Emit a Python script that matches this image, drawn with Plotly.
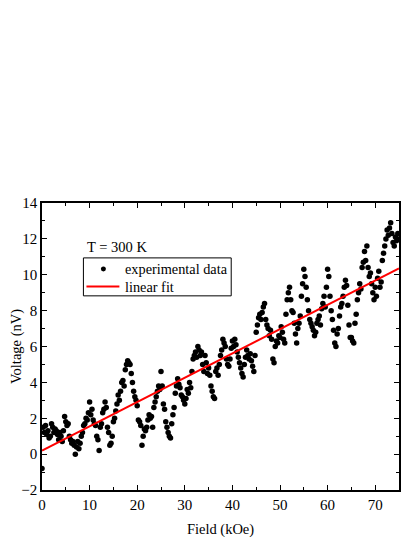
"""
Field dependence of the voltage at T = 300 K with a linear fit
"""
import plotly.graph_objects as go

# measured points (field in kOe, voltage in nV)
field = [
    0.0, 0.25, 0.5, 0.75, 1.0, 1.25, 1.5, 1.75, 2.0, 2.25, 2.5, 2.75,
    3.0, 3.25, 3.5, 3.75, 4.0, 4.25, 4.5, 4.75, 5.0, 5.25, 5.5, 5.75,
    6.0, 6.25, 6.5, 6.75, 7.0, 7.25, 7.5, 7.75, 8.0, 8.25, 8.5, 8.75,
    9.0, 9.25, 9.5, 9.75, 10.0, 10.25, 10.5, 10.75, 11.0, 11.25, 11.5, 11.75,
    12.0, 12.25, 12.5, 12.75, 13.0, 13.25, 13.5, 13.75, 14.0, 14.25, 14.5, 14.75,
    15.0, 15.25, 15.5, 15.75, 16.0, 16.25, 16.5, 16.75, 17.0, 17.25, 17.5, 17.75,
    18.0, 18.25, 18.5, 18.75, 19.0, 19.25, 19.5, 19.75, 20.0, 20.25, 20.5, 20.75,
    21.0, 21.25, 21.5, 21.75, 22.0, 22.25, 22.5, 22.75, 23.0, 23.25, 23.5, 23.75,
    24.0, 24.25, 24.5, 24.75, 25.0, 25.25, 25.5, 25.75, 26.0, 26.25, 26.5, 26.75,
    27.0, 27.25, 27.5, 27.75, 28.0, 28.25, 28.5, 28.75, 29.0, 29.25, 29.5, 29.75,
    30.0, 30.25, 30.5, 30.75, 31.0, 31.25, 31.5, 31.75, 32.0, 32.25, 32.5, 32.75,
    33.0, 33.25, 33.5, 33.75, 34.0, 34.25, 34.5, 34.75, 35.0, 35.25, 35.5, 35.75,
    36.0, 36.25, 36.5, 36.75, 37.0, 37.25, 37.5, 37.75, 38.0, 38.25, 38.5, 38.75,
    39.0, 39.25, 39.5, 39.75, 40.0, 40.25, 40.5, 40.75, 41.0, 41.25, 41.5, 41.75,
    42.0, 42.25, 42.5, 42.75, 43.0, 43.25, 43.5, 43.75, 44.0, 44.25, 44.5, 44.75,
    45.0, 45.25, 45.5, 45.75, 46.0, 46.25, 46.5, 46.75, 47.0, 47.25, 47.5, 47.75,
    48.0, 48.25, 48.5, 48.75, 49.0, 49.25, 49.5, 49.75, 50.0, 50.25, 50.5, 50.75,
    51.0, 51.25, 51.5, 51.75, 52.0, 52.25, 52.5, 52.75, 53.0, 53.25, 53.5, 53.75,
    54.0, 54.25, 54.5, 54.75, 55.0, 55.25, 55.5, 55.75, 56.0, 56.25, 56.5, 56.75,
    57.0, 57.25, 57.5, 57.75, 58.0, 58.25, 58.5, 58.75, 59.0, 59.25, 59.5, 59.75,
    60.0, 60.25, 60.5, 60.75, 61.0, 61.25, 61.5, 61.75, 62.0, 62.25, 62.5, 62.75,
    63.0, 63.25, 63.5, 63.75, 64.0, 64.25, 64.5, 64.75, 65.0, 65.25, 65.5, 65.75,
    66.0, 66.25, 66.5, 66.75, 67.0, 67.25, 67.5, 67.75, 68.0, 68.25, 68.5, 68.75,
    69.0, 69.25, 69.5, 69.75, 70.0, 70.25, 70.5, 70.75, 71.0, 71.25, 71.5, 71.75,
    72.0, 72.25, 72.5, 72.75, 73.0, 73.25, 73.5, 73.75, 74.0, 74.25, 74.5, 74.75,
    75.0,
]

voltage = [
    -0.8, 1.5, 1.2, 1.6, 1.1, 1.3, 0.9, 1.0, 1.7, 1.5, 1.2, 1.4,
    1.3, 1.1, 0.8, 1.2, 1.0, 0.7, 1.3, 2.1, 1.8, 1.6, 1.7, 1.0,
    0.8, 0.6, 0.7, 0.5, 0.0, 0.4, 0.7, 0.3, 0.6, 1.0, 1.2, 1.6,
    1.7, 2.0, 1.9, 2.3, 2.9, 2.2, 2.5, 1.9, 1.7, 1.6, 1.0, 0.8,
    0.2, 1.5, 1.7, 2.3, 2.5, 2.9, 2.6, 1.5, 1.2, 0.5, 0.6, 1.0,
    1.8, 2.0, 2.4, 2.8, 3.3, 3.0, 3.5, 4.0, 4.1, 3.8, 4.7, 5.0,
    5.2, 5.1, 5.0, 4.5, 4.0, 3.5, 3.2, 3.0, 2.7, 1.9, 1.8, 1.6,
    0.5, 1.0, 1.4, 1.3, 1.5, 1.9, 2.2, 2.0, 2.1, 1.5, 2.6, 2.9,
    3.2, 3.5, 3.8, 3.6, 4.6, 3.8, 2.8, 2.5, 1.8, 1.5, 1.2, 1.0,
    0.9, 1.7, 2.2, 2.6, 3.4, 3.8, 4.2, 3.9, 3.7, 3.3, 3.2, 3.0,
    2.8, 3.1, 3.6, 3.4, 4.0, 3.7, 4.6, 5.3, 5.5, 5.7, 5.4, 6.0,
    5.8, 5.5, 5.7, 5.0, 4.6, 5.5, 5.1, 4.5, 4.8, 4.4, 3.8, 3.5,
    3.2, 3.1, 4.6, 4.8, 4.4, 5.0, 5.5, 5.8, 6.4, 6.2, 6.0, 5.3,
    5.0, 4.9, 5.3, 5.9, 6.3, 6.0, 6.4, 6.1, 5.7, 5.4, 5.1, 4.8,
    4.5, 4.3, 5.0, 5.4, 5.8, 5.5, 5.3, 5.6, 5.2, 4.9, 4.6, 5.5,
    6.8, 7.2, 7.6, 7.8, 7.5, 7.9, 8.2, 8.4, 7.5, 7.2, 7.0, 6.6,
    6.9, 6.4, 5.3, 5.1, 6.0, 6.3, 6.2, 6.6, 6.5, 7.1, 6.8, 6.4,
    6.2, 7.8, 8.6, 9.0, 9.3, 8.6, 8.0, 7.9, 7.3, 6.7, 6.2, 7.0,
    7.3, 7.7, 8.8, 9.5, 10.3, 9.9, 9.3, 8.6, 8.0, 7.5, 7.3, 7.1,
    6.9, 6.6, 6.8, 7.3, 7.5, 7.7, 7.2, 8.1, 8.4, 8.8, 8.2, 9.3,
    10.3, 9.9, 8.8, 8.0, 7.5, 6.9, 6.2, 6.0, 6.7, 7.0, 7.7, 8.2,
    8.4, 8.8, 9.3, 9.7, 9.4, 8.3, 7.2, 6.5, 6.5, 6.3, 6.2, 7.3,
    7.8, 8.6, 9.0, 9.5, 9.2, 10.4, 10.7, 11.3, 10.8, 11.6, 10.4, 9.9,
    10.1, 9.5, 9.0, 8.6, 9.3, 8.8, 9.8, 10.2, 9.3, 9.6, 10.8, 11.2,
    11.6, 12.0, 12.5, 12.2, 12.6, 12.9, 12.3, 11.8, 11.6, 12.1, 11.9, 12.3,
    12.0,
]

# linear fit end points
fit_field = [0, 75]
fit_voltage = [0.2, 10.35]

legend_labels = ["experimental data", "linear fit"]

FONT = "Liberation Serif, Times New Roman, serif"

fig = go.Figure()

fig.add_trace(go.Scatter(
    x=field,
    y=voltage,
    mode='markers',
    name=legend_labels[0],
    marker=dict(size=5.5, color='black'),
))

fig.add_trace(go.Scatter(
    x=fit_field,
    y=fit_voltage,
    mode='lines',
    name=legend_labels[1],
    line=dict(color='red', width=2),
))

# legend drawn by hand so the box can be as compact as the original
fig.add_shape(type='rect', xref='paper', yref='paper',
              x0=0.116, x1=0.530, y0=0.6765, y1=0.8087,
              line=dict(color='black', width=1), fillcolor='white', layer='above')
fig.add_shape(type='circle', xref='paper', yref='paper',
              x0=0.165, x1=0.179, y0=0.7617, y1=0.7791,
              line=dict(color='black', width=0), fillcolor='black', layer='above')
fig.add_shape(type='line', xref='paper', yref='paper',
              x0=0.1245, x1=0.2168, y0=0.7089, y1=0.7089,
              line=dict(color='red', width=2), layer='above')
for label, ypos in zip(legend_labels, [0.7704, 0.7089]):
    fig.add_annotation(
        text=label,
        xref='paper', yref='paper',
        x=0.226, y=ypos,
        xanchor='left', yanchor='middle',
        showarrow=False,
        font=dict(family=FONT, size=14.3, color='black'),
    )

fig.add_annotation(
    text="T = 300 K",
    xref='paper', yref='paper',
    x=0.12, y=0.848,
    xanchor='left', yanchor='middle',
    showarrow=False,
    font=dict(family=FONT, size=14.5, color='black'),
)

axis_style = dict(
    showline=True,
    linecolor='black',
    linewidth=1.5,
    mirror='ticks',
    ticks='inside',
    ticklen=5,
    tickwidth=1.2,
    tickcolor='black',
    showgrid=False,
    zeroline=False,
    automargin=False,
    tickfont=dict(family=FONT, size=15, color='black'),
)

fig.update_xaxes(
    range=[0, 75],
    dtick=10,
    tick0=0,
    minor=dict(dtick=5, ticks='inside', ticklen=3, tickcolor='black', tickwidth=1.2),
    title=dict(text="Field (kOe)", font=dict(family=FONT, size=14.5, color='black'), standoff=12),
    **axis_style
)

fig.update_yaxes(
    range=[-2, 14],
    dtick=2,
    tick0=0,
    minor=dict(dtick=1, ticks='inside', ticklen=3, tickcolor='black', tickwidth=1.2),
    title=dict(text="Voltage (nV)", font=dict(family=FONT, size=14.5, color='black'), standoff=6),
    **axis_style
)

# the page adds an 8 px body margin, so the margins are trimmed by that much
fig.update_layout(
    width=415,
    height=537,
    margin=dict(l=33.5, r=24, t=195, b=54.5),
    paper_bgcolor='white',
    plot_bgcolor='white',
    showlegend=False,
)

fig.write_html("out.html")
